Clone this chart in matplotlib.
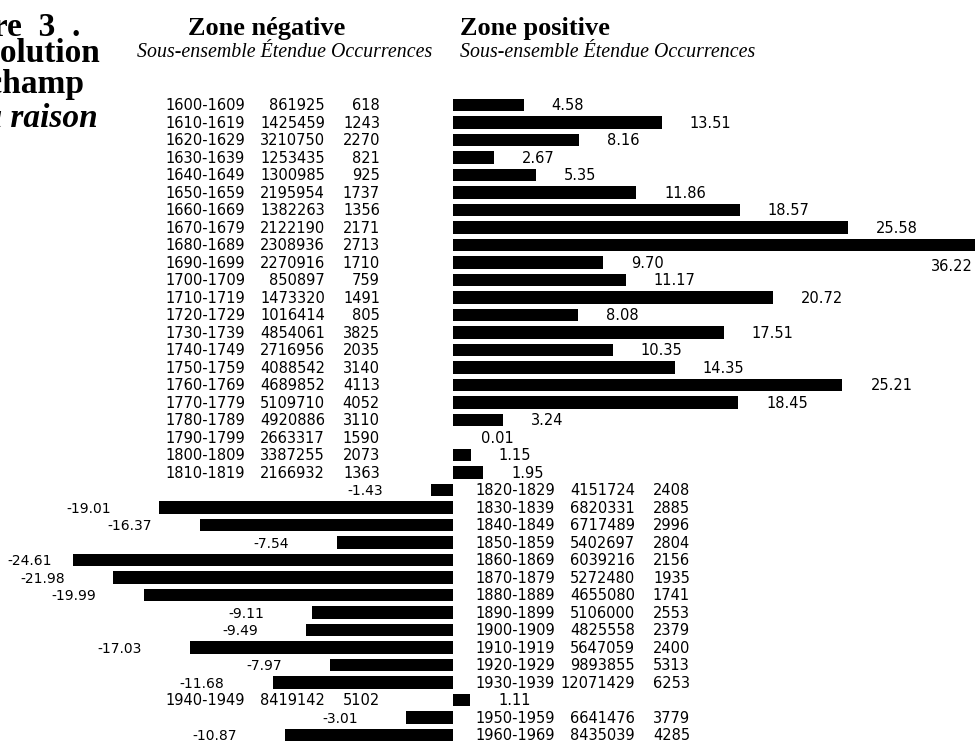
import matplotlib
matplotlib.use("Agg")
import matplotlib.pyplot as plt

# sous-ensembles (decades), etendue, occurrences and ecart for each row
periods = ["1600-1609", "1610-1619", "1620-1629", "1630-1639", "1640-1649",
           "1650-1659", "1660-1669", "1670-1679", "1680-1689", "1690-1699",
           "1700-1709", "1710-1719", "1720-1729", "1730-1739", "1740-1749",
           "1750-1759", "1760-1769", "1770-1779", "1780-1789", "1790-1799",
           "1800-1809", "1810-1819", "1820-1829", "1830-1839", "1840-1849",
           "1850-1859", "1860-1869", "1870-1879", "1880-1889", "1890-1899",
           "1900-1909", "1910-1919", "1920-1929", "1930-1939", "1940-1949",
           "1950-1959", "1960-1969"]
etendue = [861925, 1425459, 3210750, 1253435, 1300985, 2195954, 1382263,
           2122190, 2308936, 2270916, 850897, 1473320, 1016414, 4854061,
           2716956, 4088542, 4689852, 5109710, 4920886, 2663317, 3387255,
           2166932, 4151724, 6820331, 6717489, 5402697, 6039216, 5272480,
           4655080, 5106000, 4825558, 5647059, 9893855, 12071429, 8419142,
           6641476, 8435039]
occurrences = [618, 1243, 2270, 821, 925, 1737, 1356, 2171, 2713, 1710, 759,
               1491, 805, 3825, 2035, 3140, 4113, 4052, 3110, 1590, 2073, 1363,
               2408, 2885, 2996, 2804, 2156, 1935, 1741, 2553, 2379, 2400, 5313,
               6253, 5102, 3779, 4285]
ecart = [4.58, 13.51, 8.16, 2.67, 5.35, 11.86, 18.57, 25.58, 36.22, 9.70,
         11.17, 20.72, 8.08, 17.51, 10.35, 14.35, 25.21, 18.45, 3.24, 0.01,
         1.15, 1.95, -1.43, -19.01, -16.37, -7.54, -24.61, -21.98, -19.99,
         -9.11, -9.49, -17.03, -7.97, -11.68, 1.11, -3.01, -10.87]

W, H = 975, 745
ZERO_PX = 453.0      # where the bars start
PX_PER_UNIT = 15.45
ROW0_PX = 105.0
ROW_PX = 17.5

fig = plt.figure(figsize=(W / 100, H / 100), dpi=100)
ax = fig.add_axes([0, 0, 1, 1])
ax.set_xlim(-ZERO_PX / PX_PER_UNIT, (W - ZERO_PX) / PX_PER_UNIT)
ax.set_ylim((H - ROW0_PX) / ROW_PX, -ROW0_PX / ROW_PX)
ax.axis("off")

rows = list(range(len(periods)))
ax.barh(rows, ecart, height=0.72, color="black", linewidth=0)

num_font = dict(family="DejaVu Sans", fontsize=10.5, color="black")
ytr = ax.get_yaxis_transform()
dy = 0.3   # baseline shift so digits sit centred on the row

for i, (p, e, o, v) in enumerate(zip(periods, etendue, occurrences, ecart)):
    # text columns sit on the side opposite to the bar
    base = 165 if v > 0 else 475
    ax.text(base / W, i + dy, p, transform=ytr, ha="left", va="baseline", **num_font)
    ax.text((base + 160) / W, i + dy, str(e), transform=ytr, ha="right", va="baseline", **num_font)
    ax.text((base + 215) / W, i + dy, str(o), transform=ytr, ha="right", va="baseline", **num_font)

    end_px = ax.transData.transform((v, i))[0]
    lab = f"{v:.2f}"
    if v > 0:
        if end_px > W:
            # bar runs off the page: value goes under it at the right edge
            ax.text(0.998, i + 1 + dy + 0.2, lab, transform=ytr, ha="right",
                    va="baseline", **num_font)
        else:
            ax.text((end_px + 28) / W, i + dy, lab, transform=ytr, ha="left",
                    va="baseline", **num_font)
    else:
        x_right = max(end_px - 48, 52)
        ax.text(x_right / W, i + dy, lab, transform=ytr, ha="right",
                va="baseline", family="DejaVu Sans", fontsize=10, color="black")

# column headers
serif = "Liberation Serif"
fig.text(188 / W, 1 - 35 / H, "Zone négative", family=serif, fontweight="bold",
         fontsize=19, ha="left", va="baseline")
fig.text(460 / W, 1 - 35 / H, "Zone positive", family=serif, fontweight="bold",
         fontsize=19, ha="left", va="baseline")
fig.text(137 / W, 1 - 57 / H, "Sous-ensemble Étendue Occurrences", family=serif,
         style="italic", fontsize=14.3, ha="left", va="baseline")
fig.text(460 / W, 1 - 57 / H, "Sous-ensemble Étendue Occurrences", family=serif,
         style="italic", fontsize=14.3, ha="left", va="baseline")

# figure caption, cut by the page edge on the left
fig.text(80 / W, 1 - 36 / H, "Figure  3  .", family=serif, fontweight="bold",
         fontsize=24, ha="right", va="baseline")
fig.text(100 / W, 1 - 62 / H, "Évolution", family=serif, fontweight="bold",
         fontsize=24, ha="right", va="baseline")
fig.text(84 / W, 1 - 93 / H, "du champ", family=serif, fontweight="bold",
         fontsize=24, ha="right", va="baseline")
fig.text(98 / W, 1 - 127 / H, "de la raison", family=serif, fontweight="bold",
         style="italic", fontsize=24, ha="right", va="baseline")

fig.savefig("out.png", dpi=100, facecolor="white")
